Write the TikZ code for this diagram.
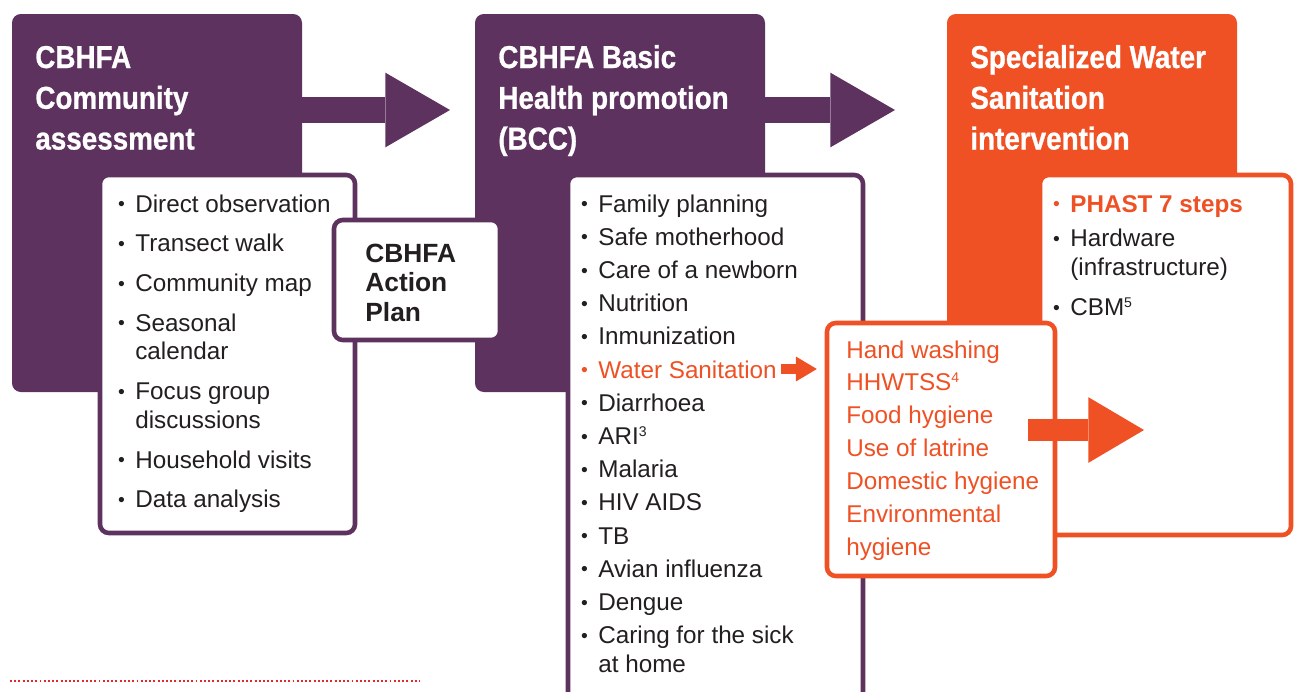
\documentclass[tikz,border=0pt]{standalone}
\usepackage{fontspec}
\setmainfont{Liberation Sans}
\newfontfamily\headfont[FakeStretch=0.88, FakeBold=0.8]{Liberation Sans}
\usetikzlibrary{arrows.meta,fit}
\definecolor{cbpurple}{RGB}{93,50,95}
\definecolor{cborange}{RGB}{239,81,36}
\definecolor{cbtext}{RGB}{35,31,32}
\definecolor{cbred}{RGB}{228,38,48}
\newcommand{\bul}{\llap{\makebox[15.8pt]{\raisebox{0.8pt}{\scalebox{0.8}{\textbullet}}}}}
\newcommand{\sups}[1]{\raisebox{4.6pt}{\fontsize{8}{8}\selectfont #1}}

\begin{document}
\begin{tikzpicture}[x=0.02cm, y=-0.02cm,
        stage/.style={fill=#1, rounded corners=5pt, inner sep=0pt},
        listbox/.style={draw=#1, fill=white, line width=2.6pt, rounded corners=5pt, inner sep=0pt},
        heading/.style={anchor=base west, inner sep=0pt, text=white, font=\headfont\bfseries\fontsize{18}{23.2}\selectfont},
        items/.style={anchor=base west, inner sep=0pt, text=cbtext, font=\fontsize{13.8}{16.4}\selectfont},
        fatarrow/.style={line width=15.3pt, -{Triangle[length=36.8pt, width=42.5pt, line width=0pt]}}]
        \useasboundingbox (0,0) rectangle (1296,691);
        \clip (0,0) rectangle (1296,691);
        \node [stage=cbpurple, fit={(12,14) (302,392)}] (S1) {};
        \node [stage=cbpurple, fit={(475,14) (765,392)}] (S2) {};
        \node [stage=cborange, fit={(947,14) (1237,392)}] (S3) {};
        \node [heading] (T1) at (35,68) {\begin{tabular}[t]{@{}l@{}}CBHFA\\Community\\assessment\end{tabular}};
        \node [heading] (T2) at (498,68) {\begin{tabular}[t]{@{}l@{}}CBHFA Basic\\Health promotion\\(BCC)\end{tabular}};
        \node [heading] (T3) at (970,68) {\begin{tabular}[t]{@{}l@{}}Specialized Water\\Sanitation\\intervention\end{tabular}};
        \coordinate (P1) at (450,110);
        \coordinate (P2) at (895,110);
        \draw [cbpurple, fatarrow] (S1.east |- P1) -- (P1);
        \draw [cbpurple, fatarrow] (S2.east |- P2) -- (P2);
        \node [listbox=cbpurple, fit={(100,175) (355,533)}] (L1) {};
        \node [items] (I1) at (135,212) {\begin{tabular}[t]{@{}l@{}}
            \bul Direct observation\\[6.2pt]
            \bul Transect walk\\[6.2pt]
            \bul Community map\\[6.2pt]
            \bul Seasonal\\
            calendar\\[6.2pt]
            \bul Focus group\\
            discussions\\[6.2pt]
            \bul Household visits\\[6.2pt]
            \bul Data analysis
        \end{tabular}};
        \node [listbox=cbpurple, fit={(334,220) (500,340)}] (AP) {};
        \node [anchor=base west, inner sep=0pt, text=cbtext, font=\bfseries\fontsize{15}{17}\selectfont] (A) at (365,262) {\begin{tabular}[t]{@{}l@{}}CBHFA\\Action\\Plan\end{tabular}};
        \node [listbox=cbpurple, fit={(568,175) (863,705)}] (L2) {};
        \node [items] (I2) at (598,212) {\begin{tabular}[t]{@{}l@{}}
            \bul Family planning\\[2.5pt]
            \bul Safe motherhood\\[2.5pt]
            \bul Care of a newborn\\[2.5pt]
            \bul Nutrition\\[2.5pt]
            \bul Inmunization\\[2.5pt]
            \textcolor{cborange}{\bul Water Sanitation}\\[2.5pt]
            \bul Diarrhoea\\[2.5pt]
            \bul ARI\sups{3}\\[2.5pt]
            \bul Malaria\\[2.5pt]
            \bul HIV AIDS\\[2.5pt]
            \bul TB\\[2.5pt]
            \bul Avian influenza\\[2.5pt]
            \bul Dengue\\[2.5pt]
            \bul Caring for the sick\\
            at home
        \end{tabular}};
        \node [listbox=cborange, fit={(1040,175) (1291,535)}] (L3) {};
        \node [items] (I3) at (1070,212) {\begin{tabular}[t]{@{}l@{}}
            \textcolor{cborange}{\bul\bfseries PHAST 7 steps}\\[3.4pt]
            \bul Hardware\\
            (infrastructure)\\[6.3pt]
            \bul CBM\sups{5}
        \end{tabular}};
        \node [listbox=cborange, fit={(827,323) (1055,576)}] (H) {};
        \node [items, text=cborange, font=\fontsize{13.8}{18.75}\selectfont] (I4) at (846,358) {\begin{tabular}[t]{@{}l@{}}
            Hand washing\\
            HHWTSS\sups{4}\\
            Food hygiene\\
            Use of latrine\\
            Domestic hygiene\\
            Environmental\\
            hygiene
        \end{tabular}};
        \coordinate (W) at (781,369);
        \draw [cborange, line width=5.7pt, shorten >=4.5pt, -{Triangle[length=11.9pt, width=14.2pt, line width=0pt]}] (W) -- (H.west |- W);
        \coordinate (Q) at (1028,430);
        \coordinate (P3) at (1144,430);
        \draw [cborange, line width=13pt, -{Triangle[length=31.7pt, width=37.4pt, line width=0pt]}] (Q) -- (P3);
        \draw [cbred, line width=1.1pt, dash pattern=on 1.1pt off 1.3pt] (10,681) -- (420,681);
    \end{tikzpicture}
\end{document}
